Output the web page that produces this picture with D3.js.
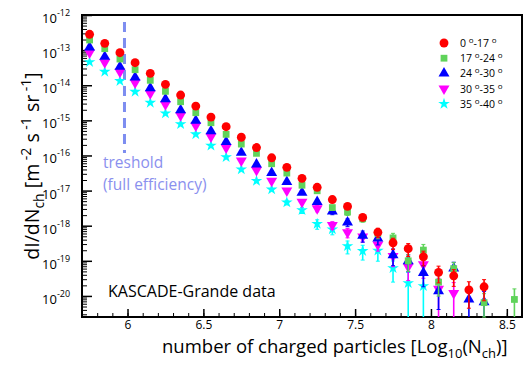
<!DOCTYPE html>
<html>
<head>
<meta charset="utf-8">
<script src="https://cdn.jsdelivr.net/npm/d3@7"></script>
<style>
  body { margin: 0; background: #fff; }
  svg { font-family: "Open Sans", sans-serif; }
</style>
</head>
<body>
<svg id="chart" width="527" height="365"></svg>
<script>
// bin centres of log10(Nch)
var bins = [5.75, 5.85, 5.95, 6.05, 6.15, 6.25, 6.35, 6.45, 6.55, 6.65, 6.75, 6.85, 6.95, 7.05,
  7.15, 7.25, 7.35, 7.45, 7.55, 7.65, 7.75, 7.85, 7.95, 8.05, 8.15, 8.25, 8.35, 8.45, 8.55];

// flux per zenith-angle range (m^-2 s^-1 sr^-1), null = no point
var flux0_17 = [2.82e-13, 1.56e-13, 8.43e-14, 4.38e-14, 2.18e-14, 1.06e-14, 5.26e-15, 2.55e-15, 1.24e-15, 6.58e-16,
  3.30e-16, 1.68e-16, 8.59e-17, 4.58e-17, 2.23e-17, 1.24e-17, 5.55e-18, 3.55e-18, 1.72e-18, 6.49e-19,
  3.26e-19, 2.21e-19, 1.30e-19, 4.70e-20, 3.74e-20, 1.49e-20, 1.82e-20, null, null];
var flux17_24 = [1.94e-13, 1.10e-13, 5.57e-14, 2.77e-14, 1.38e-14, 6.70e-15, 3.39e-15, 1.65e-15, 8.55e-16, 3.99e-16,
  2.11e-16, 1.15e-16, 5.81e-17, 3.15e-17, 1.42e-17, 9.87e-18, 3.28e-18, 2.44e-18, 1.57e-18, 6.04e-19,
  4.49e-19, 1.00e-19, 2.02e-19, 2.47e-20, 6.00e-20, null, 6.44e-21, null, 7.94e-21];
var flux24_30 = [1.20e-13, 6.49e-14, 3.37e-14, 1.68e-14, 8.32e-15, 4.05e-15, 1.96e-15, 9.87e-16, 4.95e-16, 2.45e-16,
  1.21e-16, 5.57e-17, 3.21e-17, 1.78e-17, 8.77e-18, 4.76e-18, 2.57e-18, 1.25e-18, 5.22e-19, 4.35e-19,
  1.45e-19, 9.80e-20, 4.55e-20, 1.37e-20, 6.07e-20, 7.94e-21, 6.65e-21, null, null];
var flux30_35 = [8.43e-14, 4.49e-14, 2.38e-14, 1.18e-14, 5.88e-15, 2.86e-15, 1.39e-15, 7.02e-16, 3.41e-16, 1.68e-16,
  7.16e-17, 3.84e-17, 1.89e-17, 9.87e-18, 4.76e-18, 3.11e-18, 1.04e-18, 6.44e-19, 4.89e-19, 2.90e-19,
  1.36e-19, 6.84e-20, 7.94e-20, 1.58e-20, 1.20e-20, null, null, null, null];
var flux35_40 = [4.58e-14, 2.43e-14, 1.32e-14, 6.53e-15, 3.17e-15, 1.58e-15, 7.85e-16, 4.02e-16, 1.91e-16, 9.00e-17,
  4.02e-17, 1.90e-17, 1.08e-17, 4.61e-18, 2.78e-18, 1.13e-18, 7.85e-19, 2.62e-19, 1.91e-19, 1.95e-19,
  6.19e-20, 2.32e-20, 1.90e-20, null, null, null, null, null, null];

// relative errors (1 = lower edge reaches zero)
var err0_17 = [0, 0, 0, 0, 0, 0, 0, 0, 0, 0, 0, 0, 0, 0, 0, 0.1, 0.15, 0.15, 0.2, 0.3,
  0.35, 0.4, 0.45, 0.5, 0.5, 0.7, 0.6, 0, 0];
var err17_24 = [0, 0, 0, 0, 0, 0, 0, 0, 0, 0, 0, 0, 0, 0, 0, 0, 0.15, 0.2, 0.2, 0.3,
  0.35, 0.5, 0.45, 0.6, 0.5, 0, 0.8, 0, 1];
var err24_30 = [0, 0, 0, 0, 0, 0, 0, 0, 0, 0, 0, 0, 0, 0, 0, 0.15, 0.2, 0.25, 0.35, 0.35,
  0.5, 0.5, 0.6, 0.7, 0.5, 1, 1, 0, 0];
var err30_35 = [0, 0, 0, 0, 0, 0, 0, 0, 0, 0, 0, 0, 0, 0, 0.15, 0.2, 0.25, 0.3, 0.3, 0.35,
  0.5, 0.6, 0.6, 1, 1, 0, 0, 0, 0];
var err35_40 = [0, 0, 0, 0, 0, 0, 0, 0, 0, 0, 0, 0, 0, 0.15, 0.2, 0.3, 0.3, 0.4, 0.45, 0.5,
  0.6, 1, 1, 0, 0, 0, 0, 0, 0];

var legendLabels = [["0", "17"], ["17", "24"], ["24", "30"], ["30", "35"], ["35", "40"]];
var xTicks = [6, 6.5, 7, 7.5, 8, 8.5];
var yExponents = [-12, -13, -14, -15, -16, -17, -18, -19, -20];
var thresholdX = 5.98;

var series = [
  { name: "0-17", values: flux0_17, err: err0_17, color: "#ff0000", shape: "circle" },
  { name: "17-24", values: flux17_24, err: err17_24, color: "#5fd35a", shape: "square" },
  { name: "24-30", values: flux24_30, err: err24_30, color: "#0000ff", shape: "up" },
  { name: "30-35", values: flux30_35, err: err30_35, color: "#ff00ff", shape: "down" },
  { name: "35-40", values: flux35_40, err: err35_40, color: "#00ffff", shape: "star" }
];

var margin = { top: 15, right: 5, bottom: 48, left: 82 },
  width = 527 - margin.left - margin.right,
  height = 365 - margin.top - margin.bottom;

var xScale = d3.scaleLinear().domain([5.7, 8.6]).range([0, width]);
var yScale = d3.scaleLog().domain([Math.pow(10, -20.6), 1e-12]).range([height, 0]);

var svg = d3.select("#chart")
  .append("g").attr("transform", "translate(" + margin.left + "," + margin.top + ")");

function symbolPath(shape) {
  if (shape === "circle") return d3.symbol(d3.symbolCircle, 62)();
  if (shape === "square") return d3.symbol(d3.symbolSquare, 46)();
  if (shape === "star") return d3.symbol(d3.symbolStar, 42)();
  return d3.symbol(d3.symbolTriangle, 52)();
}

// frame
svg.append("rect")
  .attr("width", width).attr("height", height)
  .attr("fill", "none").attr("stroke", "#000").attr("stroke-width", 2);

// x axis, ticks inside
var xMinor = d3.range(57, 87).map(function (d) { return d / 10; });
svg.append("g")
  .attr("transform", "translate(0," + height + ")")
  .call(d3.axisBottom(xScale).tickValues(xMinor).tickSize(-4).tickFormat(""))
  .call(function (g) { g.select(".domain").remove(); });
svg.append("g")
  .attr("transform", "translate(0," + height + ")")
  .call(d3.axisBottom(xScale).tickValues(xTicks).tickSize(-8).tickFormat(d3.format("")))
  .call(function (g) {
    g.select(".domain").remove();
    g.selectAll(".tick line").attr("stroke-width", 1.5);
    g.selectAll("text").attr("font-family", "Open Sans").attr("font-size", 12).attr("fill", "#000")
      .attr("dy", null).attr("y", 12);
  });

// y axis, ticks inside
var yMinor = [];
for (var e = -21; e <= -13; e++) {
  for (var m = 2; m <= 9; m++) {
    var v = m * Math.pow(10, e);
    if (v >= yScale.domain()[0] && v <= 1e-12) yMinor.push(v);
  }
}
svg.append("g")
  .call(d3.axisLeft(yScale).tickValues(yMinor).tickSize(-5).tickFormat(""))
  .call(function (g) { g.select(".domain").remove(); });
svg.append("g")
  .call(d3.axisLeft(yScale).tickValues(yExponents.map(function (k) { return Math.pow(10, k); })).tickSize(-10).tickFormat(""))
  .call(function (g) { g.select(".domain").remove(); g.selectAll(".tick line").attr("stroke-width", 1.5); });

var yLab = svg.append("g").selectAll("text").data(yExponents).enter().append("text")
  .attr("x", -40).attr("y", function (k) { return yScale(Math.pow(10, k)) + 8; })
  .attr("font-size", 13).attr("fill", "#000");
yLab.append("tspan").text("10");
yLab.append("tspan").attr("dy", -7).attr("font-size", 9).text(function (k) { return k; });

// threshold
svg.append("line")
  .attr("x1", xScale(thresholdX)).attr("x2", xScale(thresholdX))
  .attr("y1", 7).attr("y2", 138)
  .attr("stroke", "#7d8df0").attr("stroke-width", 3).attr("stroke-dasharray", "10,6");
svg.append("text").attr("x", 21).attr("y", 153).attr("font-size", 15.5).attr("fill", "#8a90ee").text("treshold");
svg.append("text").attr("x", 21).attr("y", 175).attr("font-size", 15.5).attr("fill", "#8a90ee").text("(full efficiency)");

svg.append("text").attr("x", 26).attr("y", 282).attr("font-size", 16).attr("fill", "#000").text("KASCADE-Grande data");

// data, drawn back to front
series.slice().reverse().forEach(function (s) {
  var pts = bins.map(function (b, i) { return { x: b, y: s.values[i], e: s.err[i] }; })
    .filter(function (p) { return p.y !== null; });
  var g = svg.append("g");
  pts.filter(function (p) { return p.e > 0; }).forEach(function (p) {
    var top = yScale(p.y * (1 + p.e));
    var bot = p.e >= 1 ? height : Math.min(height, yScale(p.y * (1 - p.e)));
    var cx = xScale(p.x);
    g.append("line").attr("x1", cx).attr("x2", cx).attr("y1", top).attr("y2", bot)
      .attr("stroke", s.color).attr("stroke-width", 1.6);
    g.append("line").attr("x1", cx - 2).attr("x2", cx + 2).attr("y1", top).attr("y2", top)
      .attr("stroke", s.color).attr("stroke-width", 1);
    if (p.e < 1) g.append("line").attr("x1", cx - 2).attr("x2", cx + 2).attr("y1", bot).attr("y2", bot)
      .attr("stroke", s.color).attr("stroke-width", 1);
  });
  g.selectAll("path").data(pts).enter().append("path")
    .attr("d", symbolPath(s.shape))
    .attr("transform", function (p) {
      return "translate(" + xScale(p.x) + "," + yScale(p.y) + ")" + (s.shape === "down" ? " rotate(180)" : "");
    })
    .attr("fill", s.color);
});

// legend
var leg = svg.append("g").attr("transform", "translate(362,28)");
series.forEach(function (s, i) {
  var row = leg.append("g").attr("transform", "translate(0," + (i * 15.2) + ")");
  row.append("path").attr("d", symbolPath(s.shape))
    .attr("transform", s.shape === "down" ? "rotate(180)" : null)
    .attr("fill", s.color);
  var t = row.append("text").attr("x", 16).attr("y", 4).attr("font-size", 10.5).attr("fill", "#000");
  t.append("tspan").text(legendLabels[i][0] + " ");
  t.append("tspan").attr("dy", -4).attr("font-size", 8).text("o");
  t.append("tspan").attr("dy", 4).text("-" + legendLabels[i][1] + " ");
  t.append("tspan").attr("dy", -4).attr("font-size", 8).text("o");
});

// axis titles
var xt = svg.append("text").attr("x", 80).attr("y", 338).attr("font-size", 18.5).attr("fill", "#000");
xt.append("tspan").text("number of charged particles [Log");
xt.append("tspan").attr("dy", 5).attr("font-size", 13).text("10");
xt.append("tspan").attr("dy", -5).text("(N");
xt.append("tspan").attr("dy", 5).attr("font-size", 13).text("ch");
xt.append("tspan").attr("dy", -5).text(")]");

var yt = svg.append("text")
  .attr("transform", "translate(-43," + (height / 2) + ") rotate(-90)")
  .attr("text-anchor", "middle").attr("font-size", 19.5).attr("fill", "#000");
yt.append("tspan").text("dI/dN");
yt.append("tspan").attr("dy", 5).attr("font-size", 14).text("ch");
yt.append("tspan").attr("dy", -5).text(" [m");
yt.append("tspan").attr("dy", -8).attr("font-size", 14).text(" -2");
yt.append("tspan").attr("dy", 8).text(" s");
yt.append("tspan").attr("dy", -8).attr("font-size", 14).text(" -1");
yt.append("tspan").attr("dy", 8).text(" sr");
yt.append("tspan").attr("dy", -8).attr("font-size", 14).text(" -1");
yt.append("tspan").attr("dy", 8).text("]");
</script>
</body>
</html>
